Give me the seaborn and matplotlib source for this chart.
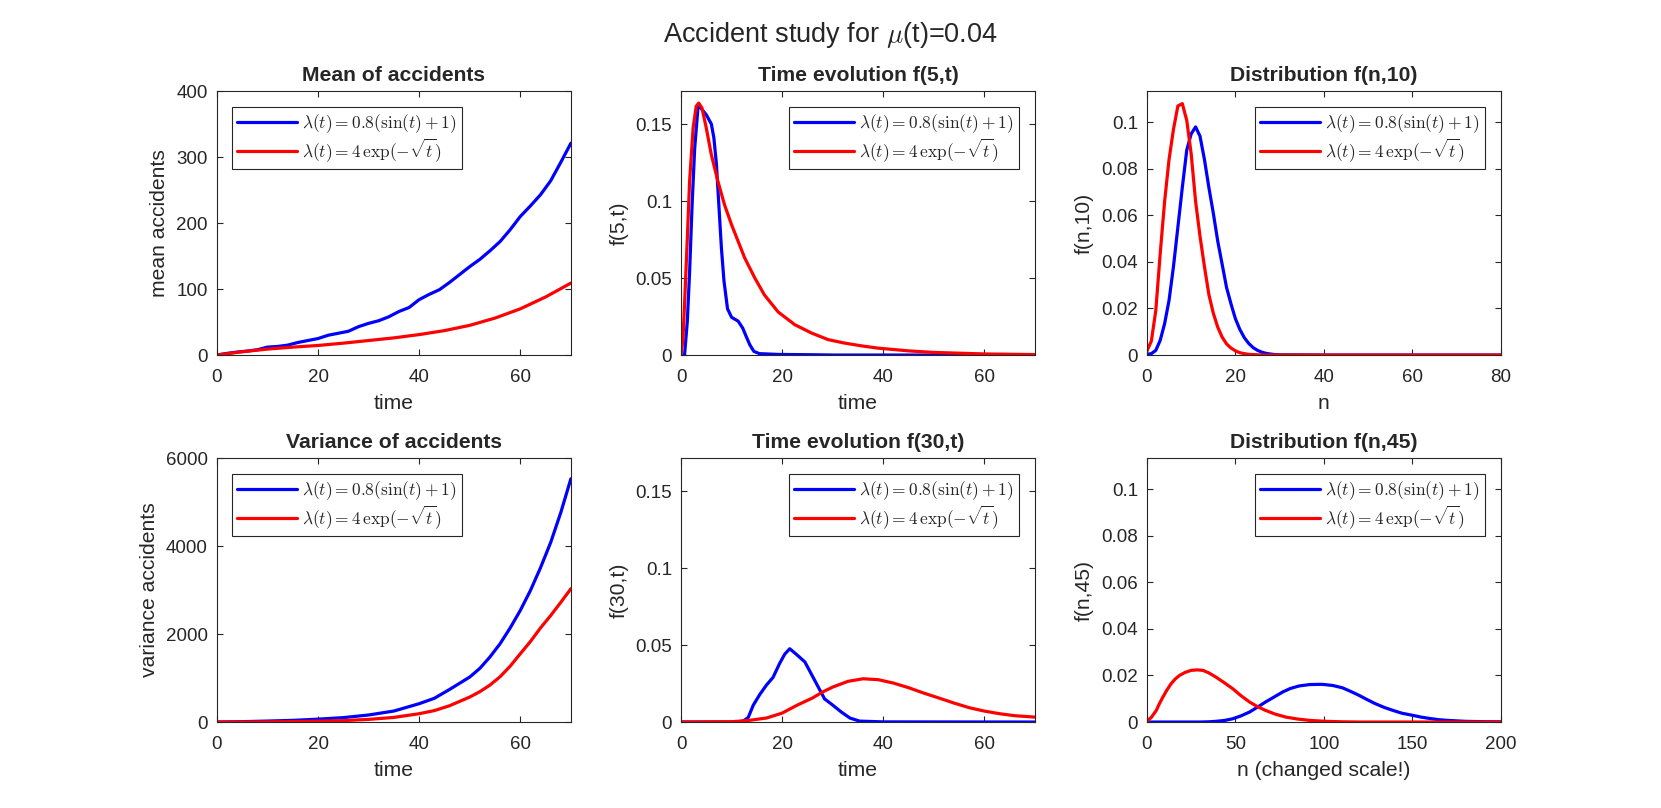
import matplotlib
matplotlib.use("Agg")
import matplotlib.pyplot as plt
import seaborn as sns
from matplotlib.ticker import FuncFormatter

# ---- data ----
lab_sin = r"$\lambda(t) = 0.8(\sin(t) + 1)$"
lab_exp = r"$\lambda(t) = 4\,\exp(-\sqrt{t})$"

# mean of accidents
mean_t_blue = [0, 2, 4, 6, 8, 10, 12, 14, 16, 18, 20, 22, 24, 26, 28, 30, 32, 34, 36, 38,
               40, 42, 44, 46, 48, 50, 52, 54, 56, 58, 60, 62, 64, 66, 68, 70]
mean_blue = [0, 2.5, 4.5, 6, 8, 12, 13, 15, 19, 22, 25, 30, 33, 36, 43, 48, 52, 58, 66, 72,
             84, 92, 99, 110, 122, 134, 145, 158, 172, 190, 210, 226, 243, 264, 292, 321]
mean_t_red = [0, 5, 10, 15, 20, 25, 30, 35, 40, 45, 50, 55, 60, 65, 70]
mean_red = [0, 5, 9, 12, 14.5, 18, 22, 26, 31, 37, 45, 56, 70, 88, 109]

# variance of accidents
var_t = [0, 5, 10, 15, 20, 25, 30, 35, 40, 43, 46, 50, 52, 54, 56, 58, 60, 62, 64, 66, 68, 70]
var_blue = [0, 8, 22, 38, 65, 100, 160, 250, 417, 540, 740, 1023, 1220, 1480, 1780, 2140,
            2538, 2990, 3510, 4080, 4760, 5530]
var_red = [0, 1.5, 4, 9, 18, 32, 60, 105, 189, 260, 370, 568, 690, 840, 1030, 1270,
           1553, 1830, 2140, 2420, 2720, 3030]

# time evolution f(5,t)
f5_t_blue = [0, 0.7, 1.25, 1.7, 2.2, 2.7, 3.4, 4, 5, 6, 6.5, 7, 7.4, 8, 8.5, 9.2, 10, 11.3,
             12.2, 12.9, 13.6, 14.4, 15.5, 19.2, 25.8, 30, 70]
f5_blue = [0, 0, 0.022, 0.054, 0.098, 0.134, 0.1625, 0.160, 0.156, 0.150, 0.141, 0.124,
           0.102, 0.069, 0.048, 0.030, 0.0245, 0.022, 0.0175, 0.012, 0.0067, 0.0024, 0.0009,
           0.0004, 0.0002, 0, 0]
f5_t_red = [0, 0.4, 0.7, 1.25, 1.7, 2.4, 3, 3.5, 4.15, 5, 6, 7.3, 8.6, 10, 11.3, 12.6, 14.6,
            16.5, 19.2, 22.5, 25.8, 29.1, 32.3, 35.6, 38.9, 45, 50, 60, 70]
f5_red = [0, 0.011, 0.033, 0.076, 0.113, 0.1475, 0.1615, 0.1636, 0.1604, 0.1474, 0.130,
          0.1128, 0.0976, 0.0846, 0.0738, 0.063, 0.050, 0.039, 0.028, 0.0197, 0.0143, 0.010,
          0.0078, 0.006, 0.0045, 0.0027, 0.0017, 0.0007, 0.0003]

# time evolution f(30,t)
f30_t_blue = [0, 11, 12.3, 13.3, 14.3, 15.6, 16.9, 18.2, 19.5, 20.5, 21.5, 22.8, 24.5, 25.8,
              27.1, 28.4, 30, 31.7, 33.4, 35.3, 40, 70]
f30_blue = [0, 0, 0.0006, 0.003, 0.011, 0.018, 0.024, 0.029, 0.038, 0.044, 0.0476, 0.044,
            0.039, 0.031, 0.023, 0.015, 0.011, 0.0065, 0.0026, 0.0006, 0.0001, 0]
f30_t_red = [0, 10, 13.3, 16.9, 20, 23, 26, 28, 30, 33, 36, 39, 42, 45, 48, 51, 54, 57, 60,
             63, 66, 70]
f30_red = [0, 0.0002, 0.001, 0.0026, 0.0058, 0.011, 0.0156, 0.0195, 0.0227, 0.0264, 0.0281,
           0.0275, 0.0253, 0.0223, 0.0188, 0.0156, 0.0123, 0.0093, 0.0071, 0.0054, 0.0041,
           0.0032]

# distribution f(n,10)
n10 = list(range(0, 31)) + [40, 50, 60, 70, 80]
f10_blue = [0.0003, 0.0006, 0.002, 0.0063, 0.0135, 0.0235, 0.038, 0.055, 0.072, 0.088, 0.095,
            0.098, 0.094, 0.084, 0.072, 0.061, 0.049, 0.039, 0.029, 0.022, 0.0156, 0.011,
            0.0075, 0.005, 0.0032, 0.002, 0.0012, 0.0007, 0.0004, 0.0002, 0.0001, 0, 0, 0, 0, 0]
f10_red = [0.0017, 0.006, 0.019, 0.0435, 0.066, 0.084, 0.097, 0.107, 0.108, 0.1008, 0.0865,
           0.066, 0.051, 0.038, 0.026, 0.018, 0.012, 0.0077, 0.0048, 0.003, 0.0018, 0.001,
           0.0006, 0.0003, 0.0002, 0.0001, 0, 0, 0, 0, 0, 0, 0, 0, 0, 0]

# distribution f(n,45)
n45_red = [0, 2.5, 5.3, 7, 9, 11.5, 13.7, 16, 18.4, 21.5, 25, 28.5, 31.6, 35, 39, 43.5, 48.5,
           53, 58, 62.5, 67, 72.5, 78.6, 85, 92, 101, 110, 120, 200]
f45_red = [0.0004, 0.002, 0.005, 0.0078, 0.0107, 0.014, 0.0165, 0.0185, 0.020, 0.0213,
           0.0222, 0.0224, 0.0222, 0.0211, 0.0193, 0.0170, 0.0143, 0.0114, 0.0086, 0.0066,
           0.005, 0.0034, 0.0021, 0.0013, 0.0007, 0.0003, 0.0001, 0, 0]
n45_blue = [0, 30, 35, 39, 44, 48.5, 53, 58, 62.5, 67, 72, 76.7, 81, 86, 92, 99, 105, 110.5,
            115, 120, 124.5, 129, 134, 139, 144, 150, 155, 160, 165, 170, 180, 190, 200]
f45_blue = [0, 0, 0.0001, 0.0003, 0.0007, 0.0014, 0.0026, 0.0043, 0.0064, 0.0086, 0.0108,
            0.0129, 0.0144, 0.0155, 0.0161, 0.0162, 0.0157, 0.0147, 0.0132, 0.0114, 0.0096,
            0.0079, 0.0063, 0.005, 0.0038, 0.0029, 0.0021, 0.0015, 0.001, 0.0007, 0.0003,
            0.00015, 0.0001]

# ---- style ----
sns.set_style("white")
plt.rcParams["font.family"] = ["Liberation Sans", "DejaVu Sans"]
plt.rcParams["mathtext.fontset"] = "cm"
plt.rcParams["axes.edgecolor"] = "0.15"
plt.rcParams["axes.linewidth"] = 0.8
plt.rcParams["xtick.color"] = "0.15"
plt.rcParams["ytick.color"] = "0.15"
plt.rcParams["axes.labelcolor"] = "0.15"

fig = plt.figure(figsize=(16.61, 8.08), dpi=100)
fig.suptitle(r"Accident study for $\mu$(t)=0.04", fontsize=19.5, y=0.957, va="center")

lefts = [0.1306, 0.41, 0.6905]
bottoms = [0.5606, 0.1064]
w, h = 0.2131, 0.3267

panels = [
    # row, col, title, xlabel, ylabel, blue, red, xlim, ylim, xticks, yticks, legend side
    (0, 0, "Mean of accidents", "time", "mean accidents", (mean_t_blue, mean_blue),
     (mean_t_red, mean_red), (0, 70), (0, 400), [0, 20, 40, 60], [0, 100, 200, 300, 400], "left"),
    (0, 1, "Time evolution f(5,t)", "time", "f(5,t)", (f5_t_blue, f5_blue), (f5_t_red, f5_red),
     (0, 70), (0, 0.1714), [0, 20, 40, 60], [0, 0.05, 0.1, 0.15], "right"),
    (0, 2, "Distribution f(n,10)", "n", "f(n,10)", (n10, f10_blue), (n10, f10_red),
     (0, 80), (0, 0.1134), [0, 20, 40, 60, 80], [0, 0.02, 0.04, 0.06, 0.08, 0.1], "right"),
    (1, 0, "Variance of accidents", "time", "variance accidents", (var_t, var_blue),
     (var_t, var_red), (0, 70), (0, 6000), [0, 20, 40, 60], [0, 2000, 4000, 6000], "left"),
    (1, 1, "Time evolution f(30,t)", "time", "f(30,t)", (f30_t_blue, f30_blue),
     (f30_t_red, f30_red), (0, 70), (0, 0.1714), [0, 20, 40, 60], [0, 0.05, 0.1, 0.15], "right"),
    (1, 2, "Distribution f(n,45)", "n (changed scale!)", "f(n,45)", (n45_blue, f45_blue),
     (n45_red, f45_red), (0, 200), (0, 0.1134), [0, 50, 100, 150, 200],
     [0, 0.02, 0.04, 0.06, 0.08, 0.1], "right"),
]

fmt = FuncFormatter(lambda v, p: "%g" % round(v, 6))

for (r, c, title, xl, yl, blue, red, xlim, ylim, xt, yt, side) in panels:
    ax = fig.add_axes([lefts[c], bottoms[r], w, h])
    sns.lineplot(x=blue[0], y=blue[1], color="blue", lw=2.3, ax=ax, label=lab_sin)
    sns.lineplot(x=red[0], y=red[1], color="red", lw=2.3, ax=ax, label=lab_exp)
    ax.set_xlim(*xlim)
    ax.set_ylim(*ylim)
    ax.set_xticks(xt)
    ax.set_yticks(yt)
    ax.yaxis.set_major_formatter(fmt)
    ax.tick_params(direction="in", length=4, width=0.8, labelsize=13.5,
                   top=True, right=True, bottom=True, left=True)
    ax.tick_params(axis="x", pad=10)
    ax.tick_params(axis="y", pad=6.5)
    ax.set_title(title, fontsize=15.2, fontweight="bold", pad=7)
    ax.set_xlabel(xl, fontsize=15.2, labelpad=6)
    ax.set_ylabel(yl, fontsize=15.2, labelpad=5)
    for s in ax.spines.values():
        s.set_visible(True)
    if side == "left":
        loc, anchor = "upper left", (0.0415, 0.9405)
    else:
        loc, anchor = "upper right", (0.9556, 0.9405)
    leg = ax.legend(loc=loc, bbox_to_anchor=anchor, borderaxespad=0, fontsize=12.5,
                    handlelength=3.45, handletextpad=0.3, borderpad=0.3, labelspacing=0.1,
                    fancybox=False, framealpha=1, edgecolor="0.15")
    leg.get_frame().set_linewidth(0.8)

fig.savefig("out.png", dpi=100)
